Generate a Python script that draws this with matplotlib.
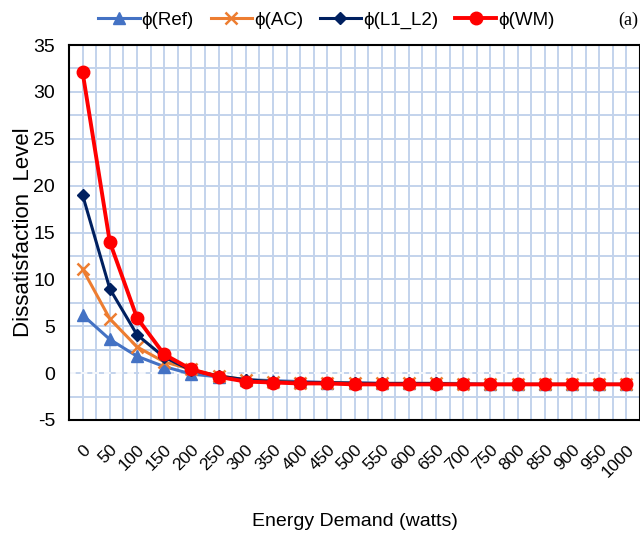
import matplotlib.pyplot as plt
import numpy as np

plt.rcParams['axes.unicode_minus'] = False

demand = [0, 50, 100, 150, 200, 250, 300, 350, 400, 450, 500,
          550, 600, 650, 700, 750, 800, 850, 900, 950, 1000]
phi_ref = [6.2, 3.6, 1.8, 0.7, -0.1, -0.4, -0.7, -0.8, -0.9, -1.0, -1.0,
           -1.1, -1.1, -1.1, -1.1, -1.2, -1.2, -1.2, -1.2, -1.2, -1.2]
phi_ac = [11.1, 5.8, 2.8, 1.2, 0.4, -0.3, -0.7, -0.9, -1.0, -1.0, -1.1,
          -1.1, -1.1, -1.1, -1.2, -1.2, -1.2, -1.2, -1.2, -1.2, -1.2]
phi_l1l2 = [19.0, 9.0, 4.1, 1.7, 0.3, -0.3, -0.7, -0.9, -1.0, -1.0, -1.1,
            -1.1, -1.1, -1.1, -1.2, -1.2, -1.2, -1.2, -1.2, -1.2, -1.2]
phi_wm = [32.1, 14.0, 5.9, 2.0, 0.4, -0.4, -0.9, -1.0, -1.1, -1.1, -1.2,
          -1.2, -1.2, -1.2, -1.2, -1.2, -1.2, -1.2, -1.2, -1.2, -1.2]

sans = 'Liberation Sans'

fig = plt.figure(figsize=(6.4, 5.36), dpi=100)
ax = fig.add_axes([69/640, 116/536, 571/640, 375/536])

x = np.arange(len(demand))
ax.plot(x, phi_ref, color='#4472C4', lw=2.2, marker='^', ms=8, label='ϕ(Ref)', zorder=3)
ax.plot(x, phi_ac, color='#ED7D31', lw=2.2, marker='x', ms=9, mew=1.8, label='ϕ(AC)', zorder=4)
ax.plot(x, phi_l1l2, color='#002060', lw=2.2, marker='D', ms=6, label='ϕ(L1_L2)', zorder=5)
ax.plot(x, phi_wm, color='#FF0000', lw=2.8, marker='o', ms=9, label='ϕ(WM)', zorder=6)

ax.set_xlim(-0.5, len(demand) - 0.5)
ax.set_ylim(-5, 35)
ax.set_yticks(np.arange(-5, 36, 5))
ax.set_yticks(np.arange(-5, 35.1, 2.5), minor=True)
ax.set_xticks(x)
ax.set_xticks(np.arange(-0.5, len(demand), 0.5), minor=True)
ax.set_xticklabels([str(d) for d in demand], rotation=45, ha='right',
                   rotation_mode='anchor', fontsize=12.5, family=sans)
for lab in ax.get_yticklabels():
    lab.set_family(sans)
    lab.set_fontsize(14)

ax.grid(True, which='both', color='#C3D3EC', lw=1.4, zorder=0)
ax.set_axisbelow(True)
ax.axhline(0, color='white', lw=1.2, ls=(0, (4, 3)), zorder=1)
ax.tick_params(axis='y', which='both', length=0, pad=10)
ax.tick_params(axis='x', which='both', length=0, pad=16)
for s in ax.spines.values():
    s.set_linewidth(1.5)
    s.set_color('black')

ax.set_ylabel('Dissatisfaction  Level', fontsize=16, family=sans)
ax.yaxis.set_label_coords(-0.062, 0.5)
ax.set_xlabel('Energy Demand (watts)', fontsize=14, family=sans, labelpad=24)

fig.legend(loc='upper center', bbox_to_anchor=(0.51, 1.01), ncol=4, frameon=False,
           prop={'family': sans, 'size': 13.5}, handlelength=2.2, columnspacing=0.9,
           handletextpad=0.1)
fig.text(0.998, 0.962, '(a)', ha='right', va='center', fontsize=13, family='Liberation Serif')

fig.savefig('out.png', dpi=100)
